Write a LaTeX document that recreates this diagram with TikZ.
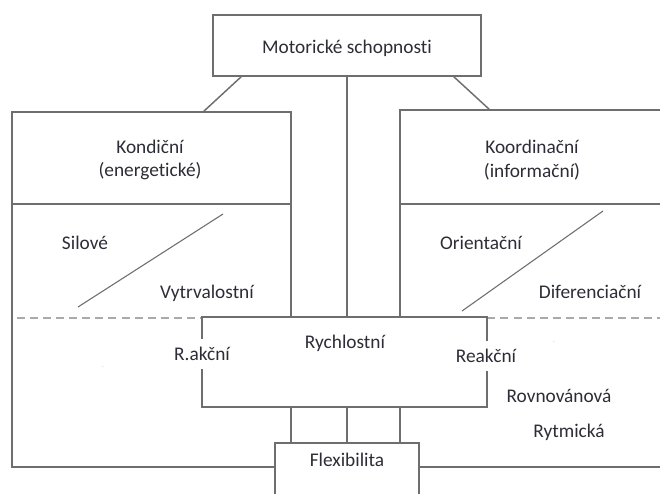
\documentclass[tikz,border=0pt]{standalone}
\usepackage{fontspec}
\setmainfont{Carlito}[Ligatures=NoCommon]
\definecolor{linegray}{RGB}{110,110,110}
\definecolor{dashgray}{RGB}{170,170,170}
\definecolor{txt}{RGB}{45,45,55}
\begin{document}
\begin{tikzpicture}[x=0.75pt,y=-0.75pt,
  box/.style={draw=linegray, line width=1.3pt, fill=white, inner sep=0pt},
  lbl/.style={text=txt, font=\fontsize{14.5}{17.5}\selectfont, inner sep=1pt},
  conn/.style={draw=linegray, line width=1.1pt},
  diag/.style={draw=linegray, line width=0.8pt},
  sep/.style={draw=dashgray, line width=2pt, dash pattern=on 6pt off 3.8pt}]
\useasboundingbox (0,0) rectangle (660,493);
\clip (0,0) rectangle (660,493);
% big group boxes
\node[box, minimum width=209.25pt, minimum height=266.25pt] (kond) at (151.5,289.5) {};
\node[box, minimum width=225pt, minimum height=267.75pt] (koord) at (550,288.5) {};
% dividers
\draw[conn] (kond.west |- 0,204) -- (kond.east |- 0,204);
\draw[conn] (koord.west |- 0,204) -- (koord.east |- 0,204);
% dashed separator
\coordinate (dsA) at (17,318);
\coordinate (dsB) at (660,318);
\draw[sep] (dsA) -- (dsB);
% diagonal splits
\coordinate (ldA) at (78,307); \coordinate (ldB) at (223,214);
\coordinate (rdA) at (462,311); \coordinate (rdB) at (603,211);
\draw[diag] (ldA) -- (ldB);
\draw[diag] (rdA) -- (rdB);
% top box and connectors
\node[box, minimum width=201pt, minimum height=45.75pt] (ms) at (347,45.5) {};
\node[box, minimum width=108pt, minimum height=57.75pt] (flex) at (347,481.5) {};
\draw[conn] (ms.south) -- (flex.north);
\coordinate (tl) at (242,76); \coordinate (kl) at (203,112);
\coordinate (tr) at (453,76); \coordinate (kr) at (490,110);
\draw[conn] (tl) -- (kl);
\draw[conn] (tr) -- (kr);
% speed box
\node[box, minimum width=213.75pt, minimum height=67.5pt] (rych) at (344.5,362) {};
\node[box, minimum width=108pt, minimum height=57.75pt] (flex2) at (347,481.5) {};
% labels
\node[lbl] (tms) at (347,48) {Motorické schopnosti};
\node[lbl, align=center] (tkond) at (150,160) {Kondiční\\(energetické)};
\node[lbl, align=center] (tkoord) at (532,160) {Koordinační\\(informační)};
\node[lbl] (tsil) at (85,243) {Silové};
\node[lbl] (tvyt) at (207,293) {Vytrvalostní};
\node[lbl] (tori) at (481,243) {Orientační};
\node[lbl] (tdif) at (590,292) {Diferenciační};
\node[lbl] (tryc) at (345,343) {Rychlostní};
\node[lbl, fill=white, inner ysep=6pt] (trak) at (202,354) {R.akční};
\node[lbl, fill=white, inner ysep=6pt] (treak) at (486,356) {Reakční};
\node[lbl] (trov) at (559,396) {Rovnovánová};
\node[lbl] (trym) at (569,432) {Rytmická};
\node[lbl] (tflex) at (347,460) {Flexibilita};
\node[text=dashgray, font=\tiny, inner sep=0pt] (dot1) at (103,367) {.};
\node[text=dashgray, font=\tiny, inner sep=0pt] (dot2) at (554,342) {.};
\end{tikzpicture}
\end{document}
